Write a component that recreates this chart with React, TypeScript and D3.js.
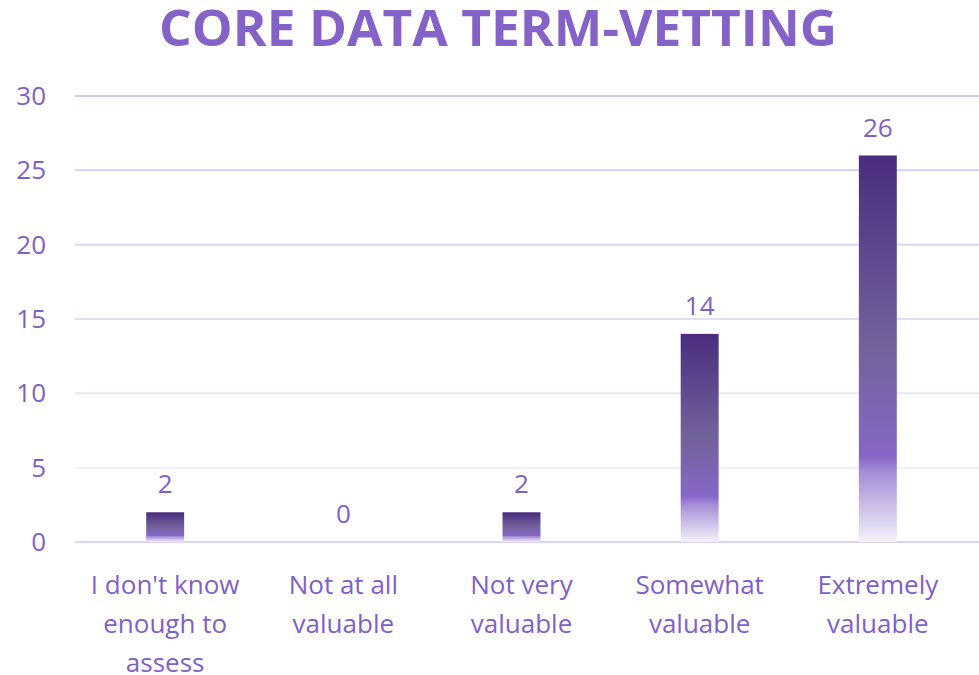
import React from "react";
import * as d3 from "d3";

const width = 979;
const height = 675;

const title = "CORE DATA TERM-VETTING";
const categories = [
  ["I don't know", "enough to", "assess"],
  ["Not at all", "valuable"],
  ["Not very", "valuable"],
  ["Somewhat", "valuable"],
  ["Extremely", "valuable"],
];
const values = [2, 0, 2, 14, 26];
const yTicks = [0, 5, 10, 15, 20, 25, 30];

const font = "'Open Sans', sans-serif";
const textColor = "#7f5fc9";

const x = d3
  .scaleBand<number>()
  .domain(d3.range(values.length))
  .range([76, 967])
  .paddingInner(0.787)
  .paddingOuter(0.394);

const y = d3.scaleLinear().domain([0, 30]).range([542, 96]);

// grid lines fade out toward the bottom, baseline a bit stronger
const gridColor = d3
  .scaleLinear<string>()
  .domain([5, 30])
  .range(["#f1eef8", "#d2c6ea"]);

export default function App() {
  return (
    <svg width={width} height={height} style={{ display: "block", position: "absolute", left: 0, top: 0 }}>
      <defs>
        <linearGradient id="barGrad" x1="0" y1="0" x2="0" y2="1">
          <stop offset="0" stopColor="#4a2d80" />
          <stop offset="0.5" stopColor="#74629c" />
          <stop offset="0.78" stopColor="#8767c7" />
          <stop offset="0.82" stopColor="#a58dd6" />
          <stop offset="1" stopColor="#f4f1fa" />
        </linearGradient>
      </defs>
      <rect width={width} height={height} fill="#fff" />

      <text
        x={498}
        y={46}
        textAnchor="middle"
        fill="#8562c8"
        fontFamily={font}
        fontWeight="bold"
        fontSize={50}
        textLength={678}
        lengthAdjust="spacingAndGlyphs"
      >
        {title}
      </text>

      {yTicks.map((t) => (
        <g key={t}>
          <line
            x1={75}
            x2={979}
            y1={y(t)}
            y2={y(t)}
            stroke={t === 0 ? "#ddd3f1" : gridColor(t)}
            strokeWidth={2}
          />
          <text
            x={46}
            y={y(t)}
            dy="0.35em"
            textAnchor="end"
            fill={textColor}
            fontFamily={font}
            fontSize={26}
          >
            {t}
          </text>
        </g>
      ))}

      {values.map((v, i) => (
        <g key={i}>
          {v > 0 && (
            <rect
              x={x(i)}
              y={y(v)}
              width={x.bandwidth()}
              height={y(0) - y(v)}
              fill="url(#barGrad)"
            />
          )}
          <text
            x={(x(i) ?? 0) + x.bandwidth() / 2}
            y={y(v) - 28}
            dy="0.35em"
            textAnchor="middle"
            fill={textColor}
            fontFamily={font}
            fontSize={26}
          >
            {v}
          </text>
          {categories[i].map((line, j) => (
            <text
              key={j}
              x={(x(i) ?? 0) + x.bandwidth() / 2}
              y={585 + j * 39}
              dy="0.35em"
              textAnchor="middle"
              fill={textColor}
              fontFamily={font}
              fontSize={26}
            >
              {line}
            </text>
          ))}
        </g>
      ))}
    </svg>
  );
}
